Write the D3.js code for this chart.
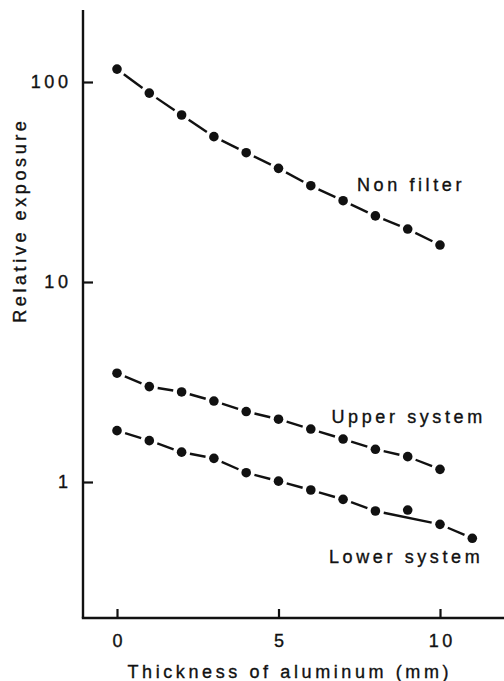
<!DOCTYPE html>
<html>
<head>
<meta charset="utf-8">
<script src="https://cdn.jsdelivr.net/npm/d3@7"></script>
<style>
  html, body { margin: 0; padding: 0; background: #fff; }
  svg { display: block; }
  text { font-family: "Liberation Sans", Arial, Helvetica, sans-serif; fill: #111; stroke: #111; stroke-width: 0.35px; }
</style>
</head>
<body>
<svg id="chart" width="504" height="681"></svg>
<script>
// ---- data ----
const thickness = [0, 1, 2, 3, 4, 5, 6, 7, 8, 9, 10];
const nonFilter = [116, 88, 68.4, 53.3, 44.3, 37.0, 30.3, 25.5, 21.4, 18.4, 15.3];
const upperSystem = [3.50, 3.0, 2.82, 2.54, 2.25, 2.06, 1.84, 1.64, 1.457, 1.339, 1.157];
const thicknessLower = [0, 1, 2, 3, 4, 5, 6, 7, 8, 9, 10, 11];
const lowerSystem = [1.806, 1.61, 1.41, 1.313, 1.113, 1.01, 0.912, 0.819, 0.716, 0.724, 0.614, 0.523];
const lowerOffLine = [9]; // point that the fitted line does not pass through
const xTicks = [0, 5, 10];
const yTicks = [1, 10, 100];
const seriesLabels = ["Non filter", "Upper system", "Lower system"];
const xTitle = "Thickness of aluminum (mm)";
const yTitle = "Relative exposure";

// ---- layout ----
const svg = d3.select("#chart");
const frame = { left: 83, right: 504, top: 10, bottom: 618 };
const x = d3.scaleLinear().domain([0, 10]).range([117, 440]);
const y = d3.scaleLog().domain([1, 100]).range([482, 82]);
const LS = 3.6; // letter spacing
const FS = 18;

// axis frame lines
svg.append("line")
  .attr("x1", frame.left).attr("x2", frame.left)
  .attr("y1", frame.top).attr("y2", frame.bottom)
  .attr("stroke", "#111").attr("stroke-width", 2.4);
svg.append("line")
  .attr("x1", frame.left - 1.2).attr("x2", frame.right)
  .attr("y1", frame.bottom).attr("y2", frame.bottom)
  .attr("stroke", "#111").attr("stroke-width", 2.4);

// y axis ticks
const gy = svg.append("g").attr("transform", `translate(${frame.left},0)`)
  .call(d3.axisLeft(y).tickValues(yTicks).tickFormat(d3.format("d"))
    .tickSizeInner(-10).tickSizeOuter(0).tickPadding(11.5));
gy.select(".domain").remove();
gy.selectAll(".tick line").attr("stroke", "#111").attr("stroke-width", 2.2);
gy.selectAll(".tick text").attr("font-size", FS).style("letter-spacing", LS + "px")
  .attr("fill", "#111").attr("font-family", null);

// x axis ticks
const gx = svg.append("g").attr("transform", `translate(0,${frame.bottom})`)
  .call(d3.axisBottom(x).tickValues(xTicks).tickFormat(d3.format("d"))
    .tickSizeInner(-9).tickSizeOuter(0).tickPadding(16));
gx.select(".domain").remove();
gx.selectAll(".tick line").attr("stroke", "#111").attr("stroke-width", 2.2);
gx.selectAll(".tick text").attr("font-size", FS).style("letter-spacing", LS + "px")
  .attr("dx", LS / 2).attr("fill", "#111").attr("font-family", null);

// axis titles
svg.append("text")
  .attr("transform", `translate(25.5,222) rotate(-90)`)
  .attr("text-anchor", "middle").attr("dx", LS / 2)
  .attr("font-size", FS).style("letter-spacing", LS + "px")
  .text(yTitle);
svg.append("text")
  .attr("x", 288).attr("y", 678).attr("dx", LS / 2)
  .attr("text-anchor", "middle")
  .attr("font-size", FS).style("letter-spacing", LS + "px")
  .text(xTitle);

// series
const series = [
  { xs: thickness, ys: nonFilter, skip: [] },
  { xs: thickness, ys: upperSystem, skip: [] },
  { xs: thicknessLower, ys: lowerSystem, skip: lowerOffLine }
];
const GAP = 8.5;
series.forEach(s => {
  const pts = s.xs.map((v, i) => ({ xv: v, px: x(v), py: y(s.ys[i]) }));
  const linePts = pts.filter(p => !s.skip.includes(p.xv));
  const segs = d3.pairs(linePts).map(([a, b]) => {
    const dx = b.px - a.px, dy = b.py - a.py;
    const L = Math.hypot(dx, dy);
    const ux = dx / L, uy = dy / L;
    return { x1: a.px + ux * GAP, y1: a.py + uy * GAP, x2: b.px - ux * GAP, y2: b.py - uy * GAP };
  });
  svg.append("g").selectAll("line").data(segs).join("line")
    .attr("x1", d => d.x1).attr("y1", d => d.y1)
    .attr("x2", d => d.x2).attr("y2", d => d.y2)
    .attr("stroke", "#111").attr("stroke-width", 2.4);
  svg.append("g").selectAll("circle").data(pts).join("circle")
    .attr("cx", d => d.px).attr("cy", d => d.py).attr("r", 4.8)
    .attr("fill", "#111");
});

// series labels
const labelPos = [[357, 190.7], [331.5, 423], [329, 563]];
svg.append("g").selectAll("text").data(seriesLabels).join("text")
  .attr("x", (d, i) => labelPos[i][0]).attr("y", (d, i) => labelPos[i][1])
  .attr("font-size", FS).style("letter-spacing", LS + "px")
  .text(d => d);
</script>
</body>
</html>
